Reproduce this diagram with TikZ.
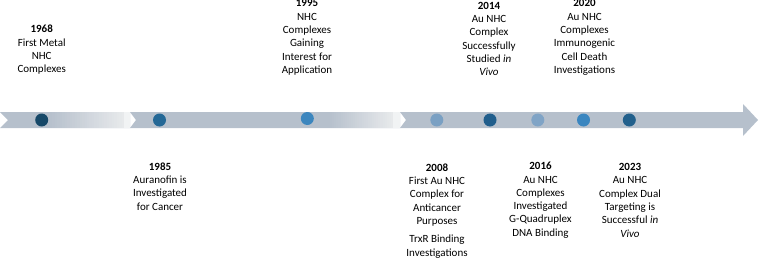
\documentclass[tikz,border=0pt]{standalone}
\usepackage{fontspec}
\setmainfont{Carlito}
\definecolor{barc}{RGB}{182,192,204}
\definecolor{fadec}{RGB}{232,234,236}
\definecolor{dA}{RGB}{22,72,104}
\definecolor{dB}{RGB}{36,104,150}
\definecolor{dC}{RGB}{60,134,190}
\definecolor{dD}{RGB}{122,160,195}
\definecolor{dE}{RGB}{32,94,140}
\definecolor{dF}{RGB}{128,164,198}
\definecolor{dG}{RGB}{58,134,192}
\definecolor{dH}{RGB}{34,96,140}
\begin{document}
\begin{tikzpicture}[x=1pt,y=-1pt,
  lbl/.style={align=center, inner sep=0pt, anchor=north, font=\fontsize{11}{13.3}\selectfont},
  dot/.style={circle, inner sep=0pt, minimum size=13pt, draw=none}]
\useasboundingbox (0,0) rectangle (760,260);
% bar segments
\fill[barc] (0,112) -- (130,112) -- (130,128) -- (0,128) -- (8,120) -- cycle;
\foreach \i in {0,...,29}{
  \pgfmathsetmacro{\pc}{100*(\i+0.5)/30}
  \fill[fadec!\pc!barc] ({50+\i*74/30},112) rectangle ({50+(\i+1)*74/30+0.3},128);
}
\fill[fadec!60!white] (124,112) rectangle (130,128);
\fill[barc] (130,112) -- (400,112) -- (400,128) -- (130,128) -- (136,120) -- cycle;
\foreach \i in {0,...,29}{
  \pgfmathsetmacro{\pc}{100*(\i+0.5)/30}
  \fill[fadec!\pc!barc] ({330+\i*63/30},112) rectangle ({330+(\i+1)*63/30+0.3},128);
}
\fill[fadec!60!white] (393,112) rectangle (400,128);
\fill[barc] (400,112) -- (743,112) -- (743,104) -- (758,120) -- (743,136) -- (743,128) -- (400,128) -- (406,120) -- cycle;
% dots
\node[dot, fill=dA] (d1) at (41.7,120) {};
\node[dot, fill=dB] (d2) at (159.5,120) {};
\node[dot, fill=dC] (d3) at (307.3,118.5) {};
\node[dot, fill=dD] (d4) at (436.8,120) {};
\node[dot, fill=dE] (d5) at (490,120) {};
\node[dot, fill=dF] (d6) at (537.8,120) {};
\node[dot, fill=dG] (d7) at (583.5,120) {};
\node[dot, fill=dH] (d8) at (629.3,120) {};
% top labels
\node[lbl] (l1) at (41.7,25) {\textbf{1968}\\First Metal\\NHC\\Complexes};
\node[lbl] (l3) at (307,-0.5) {\textbf{1995}\\NHC\\Complexes\\Gaining\\Interest for\\Application};
\node[lbl] (l5) at (489,1.8) {\textbf{2014}\\Au NHC\\Complex\\Successfully\\Studied \textit{in}\\\textit{Vivo}};
\node[lbl] (l7) at (584.5,-0.5) {\textbf{2020}\\Au NHC\\Complexes\\Immunogenic\\Cell Death\\Investigations};
% bottom labels
\node[lbl] (l2) at (160,162.5) {\textbf{1985}\\Auranofin is\\Investigated\\for Cancer};
\node[lbl] (l4) at (437,163.5) {\textbf{2008}\\First Au NHC\\Complex for\\Anticancer\\Purposes\\[5pt]TrxR Binding\\Investigations};
\node[lbl] (l6) at (540.5,162) {\textbf{2016}\\Au NHC\\Complexes\\Investigated\\G-Quadruplex\\DNA Binding};
\node[lbl] (l8) at (630,163.2) {\textbf{2023}\\Au NHC\\Complex Dual\\Targeting is\\Successful \textit{in}\\\textit{Vivo}};
\end{tikzpicture}
\end{document}
